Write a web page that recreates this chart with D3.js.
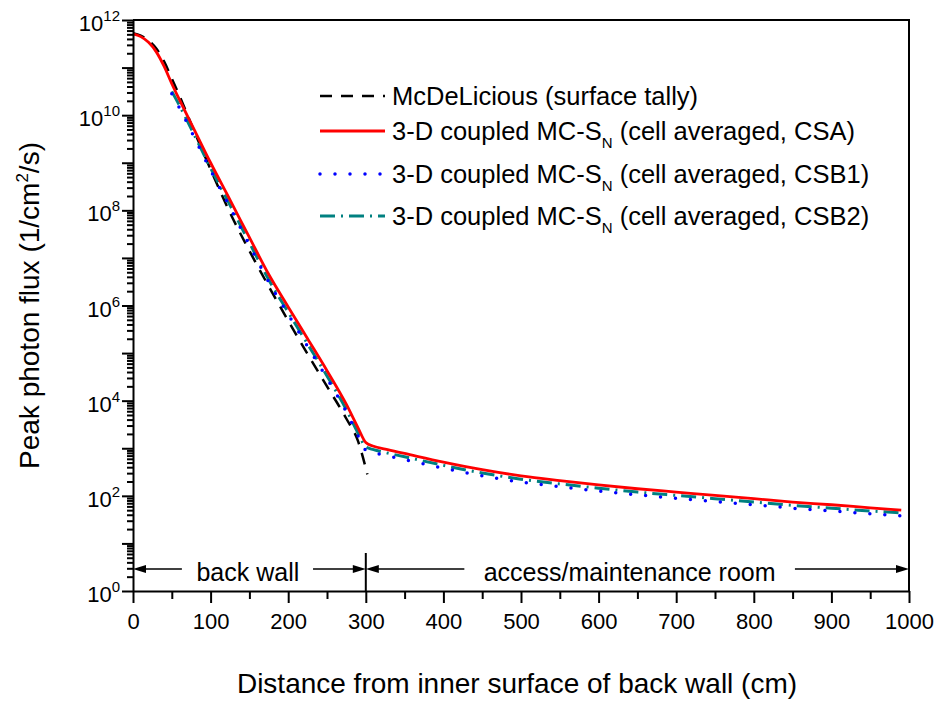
<!DOCTYPE html>
<html>
<head>
<meta charset="utf-8">
<script src="https://cdn.jsdelivr.net/npm/d3@7"></script>
<style>
  body { margin: 0; background: #fff; }
  text { font-family: "Liberation Sans", Arial, sans-serif; fill: #000; }
</style>
</head>
<body>
<div id="chart"></div>
<script>
// distances (cm) and peak photon flux (1/cm^2/s)
var distMcD = [0, 10, 20, 30, 40, 50, 60, 80, 100, 125, 150, 175, 200, 225, 250, 275, 290, 302];
var fluxMcD = [5.25e11, 4.68e11, 3.72e11, 2.51e11, 1.35e11, 5.89e10, 2.51e10, 4.17e9, 7.24e8, 8.91e7, 1.41e7, 2.51e6, 4.79e5, 9.55e4, 2.0e4, 4.17e3, 1.41e3, 282];

var distCSA = [0, 10, 20, 30, 40, 50, 60, 80, 100, 125, 150, 175, 200, 225, 250, 275, 290, 300, 310, 325, 350, 400, 450, 500, 550, 600, 650, 700, 750, 800, 850, 900, 950, 990];
var fluxCSA = [5.13e11, 4.47e11, 3.39e11, 2.14e11, 1.07e11, 4.57e10, 2.09e10, 4.57e9, 1.0e9, 1.66e8, 2.69e7, 4.47e6, 9.33e5, 2.0e5, 4.27e4, 8.32e3, 2.69e3, 1.32e3, 1.1e3, 955, 776, 513, 355, 263, 209, 170, 141, 120, 102, 87, 74, 65, 56, 50];

var distCSB = [50, 60, 80, 100, 125, 150, 175, 200, 225, 250, 275, 290, 300, 310, 325, 350, 400, 450, 500, 550, 600, 650, 700, 750, 800, 850, 900, 950, 990];
var fluxCSB1 = [2.82e10, 1.41e10, 3.16e9, 6.92e8, 1.15e8, 1.86e7, 3.09e6, 6.46e5, 1.38e5, 2.95e4, 5.75e3, 1.82e3, 912, 813, 708, 575, 380, 263, 195, 155, 126, 105, 89, 76, 65, 55, 48, 42, 38];
var fluxCSB2 = [3.16e10, 1.58e10, 3.55e9, 7.76e8, 1.29e8, 2.09e7, 3.47e6, 7.24e5, 1.55e5, 3.31e4, 6.46e3, 2.09e3, 1.07e3, 933, 813, 661, 437, 302, 224, 178, 145, 120, 102, 87, 74, 63, 55, 48, 44];

var xTicks = [0, 100, 200, 300, 400, 500, 600, 700, 800, 900, 1000];
var yExponents = [12, 10, 8, 6, 4, 2, 0];

var legendNames = ['McDeLicious (surface tally)', '3-D coupled MC-S', '3-D coupled MC-S', '3-D coupled MC-S'];
var legendTails = ['', ' (cell averaged, CSA)', ' (cell averaged, CSB1)', ' (cell averaged, CSB2)'];

var margin = {top: 20, left: 133, right: 28, bottom: 111};
var width = 937 - margin.left - margin.right;
var height = 702 - margin.top - margin.bottom;

var svg = d3.select('#chart').append('svg')
    .attr('width', 937)
    .attr('height', 702);

var g = svg.append('g').attr('transform', 'translate(' + margin.left + ',' + margin.top + ')');

var x = d3.scaleLinear().domain([0, 1000]).range([0, width]);
var y = d3.scaleLog().domain([1, 1e12]).range([height, 0]);

// series styles
var series = [
    {dist: distMcD, flux: fluxMcD, color: '#000000', w: 2.5, dash: '12,9', cap: 'butt'},
    {dist: distCSB, flux: fluxCSB2, color: '#008080', w: 3, dash: '15,6,2,6', cap: 'butt'},
    {dist: distCSB, flux: fluxCSB1, color: '#0000ff', w: 3.5, dash: '0,15', cap: 'round'},
    {dist: distCSA, flux: fluxCSA, color: '#ff0000', w: 2.8, dash: null, cap: 'butt'}
];

var line = d3.line()
    .x(function(d){ return x(d[0]); })
    .y(function(d){ return y(d[1]); })
    .curve(d3.curveMonotoneX);

series.forEach(function(s){
    g.append('path')
        .datum(s.dist.map(function(d, i){ return [d, s.flux[i]]; }))
        .attr('fill', 'none')
        .attr('stroke', s.color)
        .attr('stroke-width', s.w)
        .attr('stroke-dasharray', s.dash)
        .attr('stroke-linecap', s.cap)
        .attr('d', line);
});

// frame (top + right)
g.append('path')
    .attr('d', 'M0,0H' + width + 'V' + height)
    .attr('fill', 'none').attr('stroke', '#000').attr('stroke-width', 2);

// x axis
var xAxis = g.append('g')
    .attr('transform', 'translate(0,' + height + ')')
    .call(d3.axisBottom(x).tickValues(xTicks).tickSize(12).tickSizeOuter(0).tickPadding(10).tickFormat(d3.format('d')));
g.append('g')
    .attr('transform', 'translate(0,' + height + ')')
    .call(d3.axisBottom(x).tickValues(d3.range(50, 1000, 100)).tickSize(8).tickSizeOuter(0).tickFormat(''))
    .select('.domain').remove();
xAxis.selectAll('text').style('font-size', '22px').style('font-family', '"Liberation Sans", Arial, sans-serif');

// y axis: major ticks each decade, minor 2..9
var majors = d3.range(0, 13).map(function(e){ return Math.pow(10, e); });
var minors = [];
for (var e = 0; e < 12; e++) {
    for (var k = 2; k <= 9; k++) minors.push(k * Math.pow(10, e));
}
g.append('g')
    .call(d3.axisLeft(y).tickValues(majors).tickSize(11).tickSizeOuter(0).tickFormat(''));
g.append('g')
    .call(d3.axisLeft(y).tickValues(minors).tickSize(6).tickSizeOuter(0).tickFormat(''))
    .select('.domain').remove();

g.selectAll('.domain, .tick line').attr('stroke', '#000').attr('stroke-width', 2);

var yLab = g.append('g').selectAll('text')
    .data(yExponents)
    .enter().append('text')
    .attr('x', -13)
    .attr('y', function(d){ return y(Math.pow(10, d)) + 11; })
    .attr('text-anchor', 'end')
    .style('font-size', '22px');
yLab.append('tspan').text('10');
yLab.append('tspan').attr('dy', -10).style('font-size', '15px').text(function(d){ return d; });

// region annotations
var arrowY = height - 22;
function arrow(x1, x2) {
    // line from x1 to x2, head at x2
    var dir = x2 > x1 ? 1 : -1;
    g.append('line')
        .attr('x1', x(x1)).attr('x2', x(x2) - dir * 10)
        .attr('y1', arrowY).attr('y2', arrowY)
        .attr('stroke', '#000').attr('stroke-width', 1.5);
    g.append('path')
        .attr('d', 'M' + x(x2) + ',' + arrowY + 'L' + (x(x2) - dir * 13) + ',' + (arrowY - 4) + 'L' + (x(x2) - dir * 13) + ',' + (arrowY + 4) + 'Z')
        .attr('fill', '#000');
}
arrow(63, 0);
arrow(232, 300);
arrow(427, 300);
arrow(853, 1000);

g.append('line')
    .attr('x1', x(300)).attr('x2', x(300))
    .attr('y1', height - 38).attr('y2', height)
    .attr('stroke', '#000').attr('stroke-width', 2);

g.append('text').attr('x', x(148)).attr('y', arrowY + 4)
    .attr('dy', '0.3em')
    .attr('text-anchor', 'middle').style('font-size', '25px').text('back wall');
g.append('text').attr('x', x(640)).attr('y', arrowY + 4)
    .attr('dy', '0.3em')
    .attr('text-anchor', 'middle').style('font-size', '25px').text('access/maintenance room');

// legend
var legRows = [96, 131, 174, 216];
var legStyle = [series[0], series[3], series[2], series[1]];
legendNames.forEach(function(name, i){
    var ly = legRows[i];
    var s = legStyle[i];
    svg.append('line')
        .attr('x1', 320).attr('x2', 385)
        .attr('y1', ly).attr('y2', ly)
        .attr('stroke', s.color).attr('stroke-width', s.w)
        .attr('stroke-dasharray', s.dash).attr('stroke-linecap', s.cap);
    var t = svg.append('text').attr('x', 392).attr('y', ly + 9).style('font-size', '25.5px');
    t.append('tspan').text(name);
    if (legendTails[i]) {
        t.append('tspan').attr('dy', 8).style('font-size', '15px').text('N');
        t.append('tspan').attr('dy', -8).text(legendTails[i]);
    }
});

// axis titles
svg.append('text')
    .attr('x', margin.left + width / 2 - 4)
    .attr('y', 693)
    .attr('text-anchor', 'middle')
    .style('font-size', '28px')
    .text('Distance from inner surface of back wall (cm)');

var yt = svg.append('text')
    .attr('transform', 'translate(39,' + (margin.top + height / 2) + ') rotate(-90)')
    .attr('text-anchor', 'middle')
    .style('font-size', '28px');
yt.append('tspan').text('Peak photon flux (1/cm');
yt.append('tspan').attr('dy', -11).style('font-size', '17px').text('2');
yt.append('tspan').attr('dy', 11).text('/s)');
</script>
</body>
</html>
